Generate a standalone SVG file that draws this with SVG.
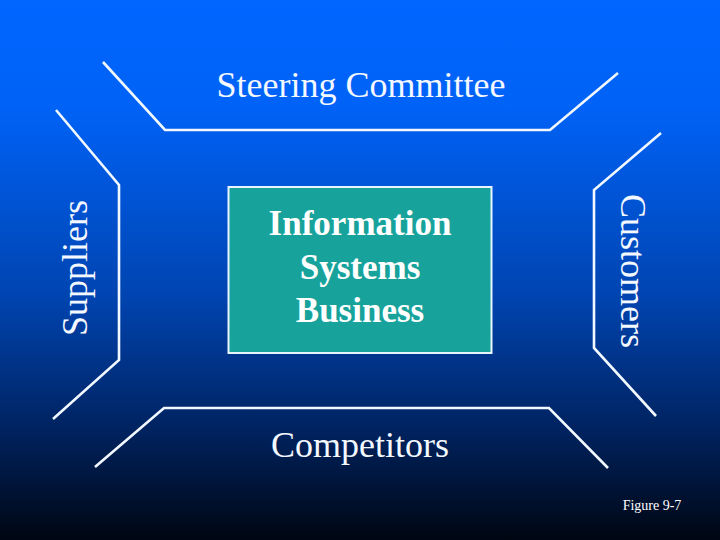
<svg xmlns="http://www.w3.org/2000/svg" width="720" height="540" viewBox="0 0 720 540">
<defs>
<linearGradient id="bg" x1="0" y1="0" x2="0" y2="1">
<stop offset="0" stop-color="#0066ff"/>
<stop offset="0.2" stop-color="#0062f6"/>
<stop offset="0.55" stop-color="#0044b0"/>
<stop offset="0.8" stop-color="#00225e"/>
<stop offset="1" stop-color="#000612"/>
</linearGradient>
<style>
.ln{fill:none;stroke:#f2f8ff;stroke-width:2.6;stroke-linejoin:miter;stroke-linecap:butt}
.lbl{font-family:"Liberation Serif","Times New Roman",serif;font-size:36px;fill:#f4f8ff}
.bx{font-family:"Liberation Serif","Times New Roman",serif;font-size:35px;font-weight:bold;fill:#ffffff;text-anchor:middle}
</style>
</defs>
<rect width="720" height="540" fill="url(#bg)"/>
<g id="connectors">
<polyline class="ln" points="103,62 165,130 550,130 618,73"/>
<polyline class="ln" points="56,110 119,185 119,360 53,419"/>
<polyline class="ln" points="661,133 594,190 594,348 656,416"/>
<polyline class="ln" points="95,467 164,408 549,408 608,468"/>
</g>
<g id="steering">
<text class="lbl" x="361" y="97" text-anchor="middle">Steering Committee</text>
</g>
<g id="suppliers">
<text class="lbl" transform="translate(87,268) rotate(-90)" text-anchor="middle">Suppliers</text>
</g>
<g id="customers">
<text class="lbl" transform="translate(621,271) rotate(90)" text-anchor="middle">Customers</text>
</g>
<g id="competitors">
<text class="lbl" x="360" y="457" text-anchor="middle">Competitors</text>
</g>
<g id="isb">
<rect x="228.5" y="187" width="263" height="166" fill="#17a39c" stroke="#e8f4ff" stroke-width="2"/>
<text class="bx" x="360" y="235">Information</text>
<text class="bx" x="360" y="279">Systems</text>
<text class="bx" x="360" y="322">Business</text>
</g>
<g id="figure">
<text x="652" y="510" font-family="Liberation Serif, serif" font-size="14" fill="#ffffff" text-anchor="middle">Figure 9-7</text>
</g>
</svg>
